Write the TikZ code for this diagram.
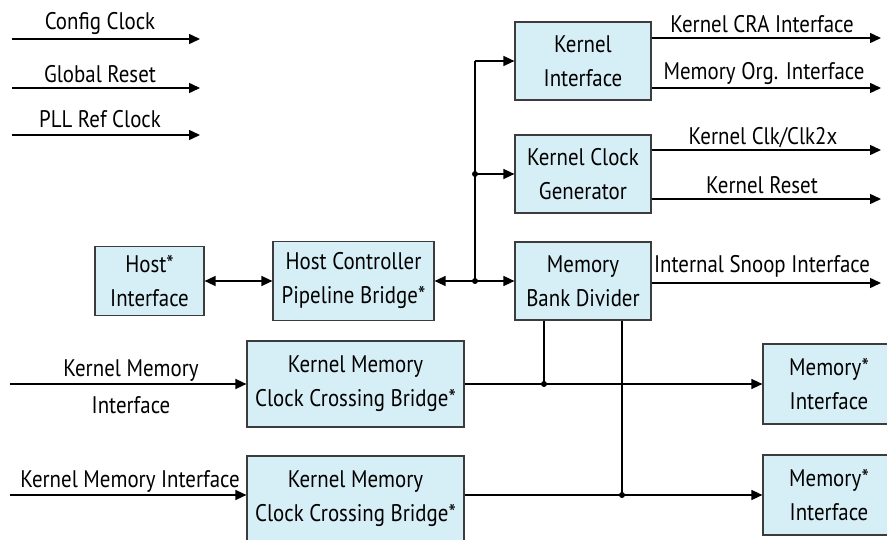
\documentclass[tikz,border=0pt]{standalone}
\usepackage{fontspec}
\setmainfont{PT Sans}[FakeStretch=0.87]
\usetikzlibrary{arrows.meta}
\definecolor{boxfill}{RGB}{214,238,246}
\definecolor{boxline}{RGB}{60,60,60}
\begin{document}
\begin{tikzpicture}[x=1pt,y=-1pt,
  blk/.style={draw=boxline,line width=1.2pt,fill=boxfill,align=center,inner sep=0pt,font=\fontsize{24}{34}\selectfont},
  lbl/.style={font=\fontsize{24}{37}\selectfont,inner sep=0pt,align=center},
  arr/.style={line width=1.5pt,-{Triangle[length=11pt,width=10pt]}},
  darr/.style={line width=1.5pt,{Triangle[length=11pt,width=10pt]}-{Triangle[length=11pt,width=10pt]}},
  ln/.style={line width=1.5pt},
  dot/.style={circle,fill=black,inner sep=0pt,minimum size=6pt}]
\useasboundingbox (0,0) rectangle (887,540);
\clip (0,0) rectangle (887,540);

% boxes
\node[blk,minimum width=136pt,minimum height=78pt] (ki) at (583,61) {Kernel\\Interface};
\node[blk,minimum width=136pt,minimum height=78pt] (kcg) at (583,174) {Kernel Clock\\Generator};
\node[blk,minimum width=136pt,minimum height=78pt] (mbd) at (583,281) {Memory\\Bank Divider};
\node[blk,minimum width=109pt,minimum height=69pt] (host) at (149.5,281) {Host*\\Interface};
\node[blk,minimum width=161pt,minimum height=79pt] (hcpb) at (353.5,281) {Host Controller\\Pipeline Bridge*};
\node[blk,minimum width=217pt,minimum height=86pt] (kmccb1) at (355.5,384) {Kernel Memory\\Clock Crossing Bridge*};
\node[blk,minimum width=217pt,minimum height=86pt] (kmccb2) at (355.5,499) {Kernel Memory\\Clock Crossing Bridge*};
\node[blk,minimum width=132pt,minimum height=80pt] (mi1) at (829,384) {Memory*\\Interface};
\node[blk,minimum width=132pt,minimum height=80pt] (mi2) at (829,495) {Memory*\\Interface};

% left inputs
\coordinate (ccA) at (12,39);  \coordinate (ccB) at (200,39);
\coordinate (grA) at (12,88);  \coordinate (grB) at (200,88);
\coordinate (plA) at (12,135); \coordinate (plB) at (200,135);
\draw[arr] (ccA) -- (ccB);
\draw[arr] (grA) -- (grB);
\draw[arr] (plA) -- (plB);
\node[lbl,anchor=base] (cclbl) at (100,30) {Config Clock};
\node[lbl,anchor=base] (grlbl) at (100,83) {Global Reset};
\node[lbl,anchor=base] (pllbl) at (100,128) {PLL Ref Clock};

% right outputs
\coordinate (cra) at (881,38);
\coordinate (mor) at (881,88);
\coordinate (kclk) at (881,150);
\coordinate (krst) at (881,199);
\coordinate (snp) at (881,283);
\draw[arr] (ki.east |- cra) -- (cra);
\draw[arr] (ki.east |- mor) -- (mor);
\draw[arr] (kcg.east |- kclk) -- (kclk);
\draw[arr] (kcg.east |- krst) -- (krst);
\draw[arr] (mbd.east |- snp) -- (snp);
\node[lbl,anchor=base] (cralbl) at (762,33) {Kernel CRA Interface};
\node[lbl,anchor=base] (morlbl) at (764,80) {Memory Org. Interface};
\node[lbl,anchor=base] (kclklbl) at (763,145) {Kernel Clk/Clk2x};
\node[lbl,anchor=base] (krstlbl) at (762,194) {Kernel Reset};
\node[lbl,anchor=base] (snplbl) at (762,273) {Internal Snoop Interface};

% bus
\coordinate (bt) at (475,61);
\coordinate (j1) at (475,174);
\coordinate (j2) at (475,281);
\draw[ln] (bt) -- (j2);
\draw[arr] (bt) -- (ki.west);
\draw[arr] (j1) -- (kcg.west);
\draw[darr] (hcpb.east) -- (mbd.west);
\draw[darr] (host.east) -- (hcpb.west);

% memory paths
\coordinate (km1) at (10,384);
\coordinate (km2) at (10,495);
\draw[arr] (km1) -- (kmccb1.west);
\draw[arr] (km2) -- (kmccb2.west |- km2);
\node[lbl] (km1lbl) at (131,387) {Kernel Memory\\Interface};
\node[lbl,anchor=base] (km2lbl) at (130,487) {Kernel Memory Interface};

\coordinate (d1) at (544,384);
\coordinate (d2) at (622,495);
\draw[arr] (kmccb1.east) -- (mi1.west);
\draw[arr] (kmccb2.east |- mi2.west) -- (mi2.west);
\draw[ln] (mbd.south -| d1) -- (d1);
\draw[ln] (mbd.south -| d2) -- (d2);

% junction dots
\node[dot] (dj1) at (j1) {};
\node[dot] (dj2) at (j2) {};
\node[dot] (dd1) at (d1) {};
\node[dot] (dd2) at (d2) {};
\end{tikzpicture}
\end{document}
